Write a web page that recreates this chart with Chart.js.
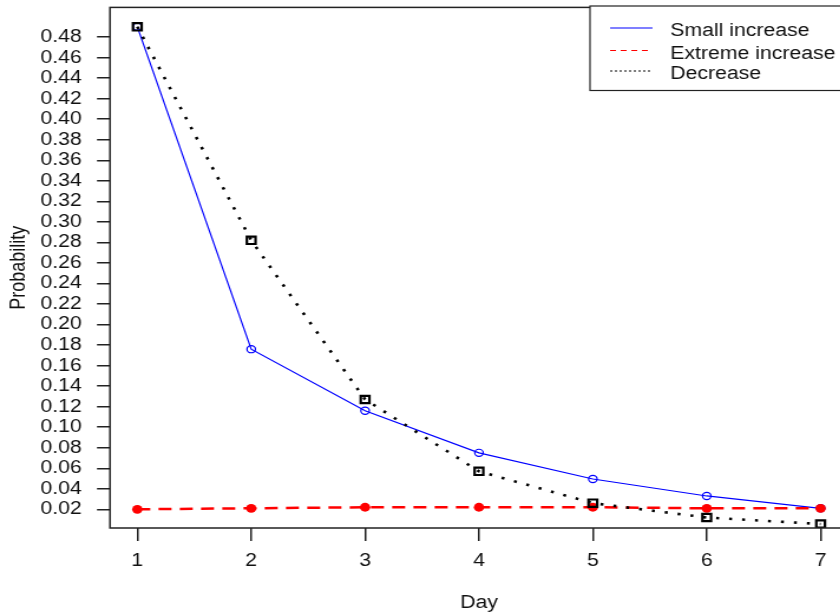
<!DOCTYPE html>
<html>
<head>
<meta charset="utf-8">
<script src="https://cdn.jsdelivr.net/npm/chart.js@4"></script>
<style>
html,body{margin:0;padding:0;background:#fff;overflow:hidden;width:840px;height:614px;}
#wrap{position:absolute;left:0;top:0;width:740px;height:614px;transform:scaleX(1.18);transform-origin:0 0;}
</style>
</head>
<body>
<div id="wrap"><canvas id="c"></canvas></div>
<script>
const days = [1, 2, 3, 4, 5, 6, 7];
const smallIncrease = [0.490, 0.176, 0.116, 0.075, 0.0495, 0.033, 0.021];
const extremeIncrease = [0.020, 0.021, 0.022, 0.022, 0.022, 0.021, 0.021];
const decrease = [0.490, 0.282, 0.127, 0.057, 0.026, 0.012, 0.0057];
const xTicks = [1, 2, 3, 4, 5, 6, 7];
const yTicks = [0.02, 0.04, 0.06, 0.08, 0.10, 0.12, 0.14, 0.16, 0.18, 0.20, 0.22, 0.24,
                0.26, 0.28, 0.30, 0.32, 0.34, 0.36, 0.38, 0.40, 0.42, 0.44, 0.46, 0.48];
const seriesNames = ['Small increase', 'Extreme increase', 'Decrease'];

const FONT = '"Liberation Sans", Arial, sans-serif';
const pts = arr => days.map((d, i) => ({x: d, y: arr[i]}));

const legendBox = {
  id: 'legendBox',
  afterDraw(chart) {
    const ctx = chart.ctx;
    const a = chart.chartArea;
    ctx.save();
    // plot frame
    ctx.strokeStyle = '#222';
    ctx.lineWidth = 1.5;
    ctx.strokeRect(a.left, a.top, a.right - a.left, a.bottom - a.top);
    // legend
    ctx.fillStyle = '#fff';
    ctx.fillRect(500, 6, 300, 84.5);
    ctx.lineWidth = 1.2;
    ctx.strokeStyle = '#222';
    ctx.strokeRect(500, 6, 300, 84.5);
    const rows = [28, 50.5, 71];
    chart.data.datasets.forEach((ds, i) => {
      const y = rows[i];
      ctx.beginPath();
      ctx.strokeStyle = ds.borderColor;
      ctx.lineWidth = 1.2;
      ctx.setLineDash(i === 0 ? [] : (i === 1 ? [5, 4] : [2, 2]));
      ctx.moveTo(517, y);
      ctx.lineTo(553, y);
      ctx.stroke();
      ctx.setLineDash([]);
      ctx.fillStyle = '#111';
      ctx.font = '18px ' + FONT;
      ctx.textBaseline = 'alphabetic';
      ctx.textAlign = 'left';
      ctx.fillText(ds.label, 568, y + 8);
    });
    ctx.restore();
  }
};

new Chart(document.getElementById('c'), {
  type: 'line',
  data: {
    datasets: [
      {
        label: seriesNames[0], data: pts(smallIncrease),
        borderColor: '#0000ff', borderWidth: 1.2, backgroundColor: 'rgba(0,0,0,0)',
        pointStyle: 'circle', pointRadius: 3.6, pointBorderWidth: 1.2,
        pointBorderColor: '#0000ff', pointBackgroundColor: 'rgba(0,0,0,0)', order: 3
      },
      {
        label: seriesNames[1], data: pts(extremeIncrease),
        borderColor: '#ff0000', borderWidth: 2.5, borderDash: [11, 7], backgroundColor: '#ff0000',
        pointStyle: 'circle', pointRadius: 4.4, pointBorderWidth: 0,
        pointBackgroundColor: '#ff0000', order: 2
      },
      {
        label: seriesNames[2], data: pts(decrease),
        borderColor: '#000000', borderWidth: 2.6, borderDash: [2.5, 8.5], backgroundColor: 'rgba(0,0,0,0)',
        pointStyle: 'rect', pointRadius: 5.2, pointBorderWidth: 2.2,
        pointBorderColor: '#000', pointBackgroundColor: 'rgba(0,0,0,0)', order: 1
      }
    ]
  },
  options: {
    responsive: true,
    maintainAspectRatio: false,
    animation: false,
    devicePixelRatio: 1,
    layout: {padding: {top: 7, right: 21.4, bottom: 0, left: 0}},
    plugins: {legend: {display: false}, tooltip: {enabled: false}},
    elements: {line: {tension: 0}},
    scales: {
      x: {
        type: 'linear', min: 0.76, max: 7.24,
        afterFit(s) { s.height = 86; s.paddingLeft = 0; s.paddingRight = 0; },
        afterBuildTicks(s) { s.ticks = xTicks.map(v => ({value: v})); },
        grid: {drawOnChartArea: false, drawTicks: true, tickLength: 13, color: '#222', lineWidth: 1.5},
        border: {display: false},
        ticks: {color: '#111', font: {family: FONT, size: 18}, padding: 9, maxRotation: 0, autoSkip: false,
                callback: v => String(v)},
        title: {display: true, text: 'Day', color: '#111', font: {family: FONT, size: 18}, padding: {top: 0, bottom: 0}}
      },
      y: {
        type: 'linear', min: 0.0018, max: 0.5089,
        afterFit(s) { s.width = 93.2; s.paddingTop = 0; s.paddingBottom = 0; },
        afterBuildTicks(s) { s.ticks = yTicks.map(v => ({value: v})); },
        grid: {drawOnChartArea: false, drawTicks: true, tickLength: 11, color: '#222', lineWidth: 1.5},
        border: {display: false},
        ticks: {color: '#111', font: {family: FONT, size: 18}, padding: 13, autoSkip: false,
                callback: v => Number(v).toFixed(2)},
        title: {display: true, text: 'Probability', color: '#111', font: {family: FONT, size: 18}, padding: {top: 5, bottom: 0}}
      }
    }
  },
  plugins: [legendBox]
});
</script>
</body>
</html>
